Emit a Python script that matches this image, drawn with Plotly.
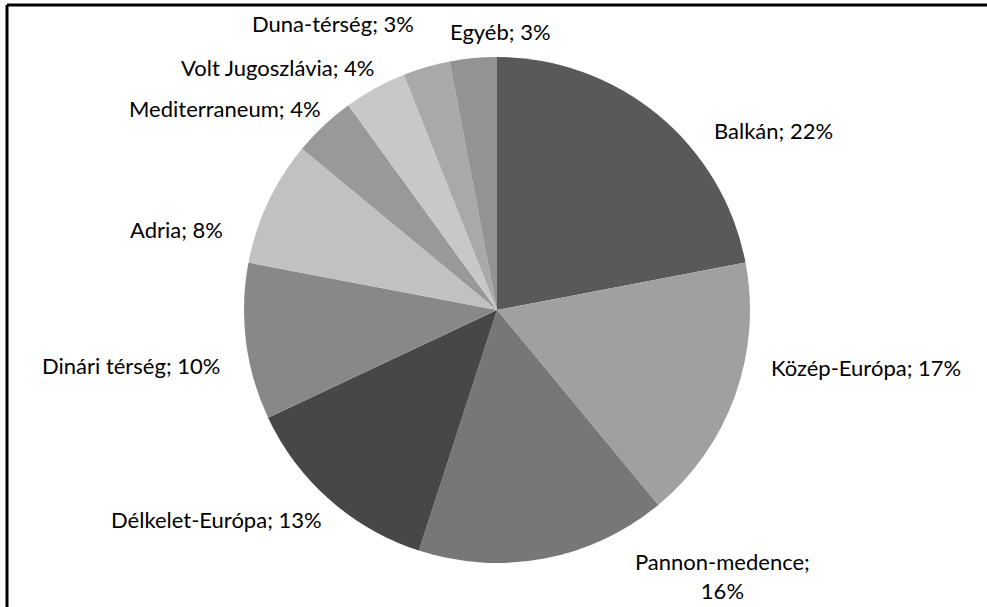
import plotly.graph_objects as go

# ---- data ----
categories = ["Balkán", "Közép-Európa", "Pannon-medence", "Délkelet-Európa",
              "Dinári térség", "Adria", "Mediterraneum", "Volt Jugoszlávia",
              "Duna-térség", "Egyéb"]
shares = [22, 17, 16, 13, 10, 8, 4, 4, 3, 3]

# ---- styles / layout ----
colors = ["#595959", "#a0a0a0", "#777777", "#474747", "#888888",
          "#c1c1c1", "#999999", "#c8c8c8", "#a9a9a9", "#939393"]
W, H = 987, 607
CX, CY, R = 497, 310, 253
# label centres in pixels (Excel-style placement)
label_px = [(773, 130), (866, 367), (722, 576), (216, 519), (131, 365),
            (176, 230), (225, 108), (278, 68), (333, 24), (500, 32)]
wrap_after_semicolon = {"Pannon-medence"}

fig = go.Figure(go.Pie(
    labels=categories,
    values=shares,
    sort=False,
    direction="clockwise",
    rotation=0,
    textinfo="none",
    hoverinfo="label+percent",
    marker=dict(colors=colors, line=dict(width=0)),
    domain=dict(x=[(CX - R) / W, (CX + R) / W],
                y=[(H - CY - R) / H, (H - CY + R) / H]),
    showlegend=False,
))

annotations = []
for cat, v, (px, py) in zip(categories, shares, label_px):
    sep = ";<br>" if cat in wrap_after_semicolon else "; "
    annotations.append(dict(
        text=f"{cat}{sep}{v}%", x=px / W, y=1 - py / H,
        xref="paper", yref="paper", xanchor="center", yanchor="middle",
        showarrow=False, align="center",
        font=dict(family="Lato, Carlito, sans-serif", size=22, color="#000000"),
    ))

fig.update_layout(
    width=W, height=H,
    margin=dict(l=0, r=0, t=0, b=0),
    paper_bgcolor="white",
    plot_bgcolor="white",
    annotations=annotations,
    shapes=[
        dict(type="line", xref="paper", yref="paper",
             x0=7 / W, x1=1.0, y0=1 - 5 / H, y1=1 - 5 / H,
             line=dict(color="black", width=3), layer="above"),
        dict(type="line", xref="paper", yref="paper",
             x0=7 / W, x1=7 / W, y0=0.0, y1=1 - 5 / H,
             line=dict(color="black", width=3), layer="above"),
    ],
)

fig.write_html(
    "out.html",
    config={"displayModeBar": False},
    post_script="document.body.style.margin='0';document.body.style.overflow='hidden';",
)
